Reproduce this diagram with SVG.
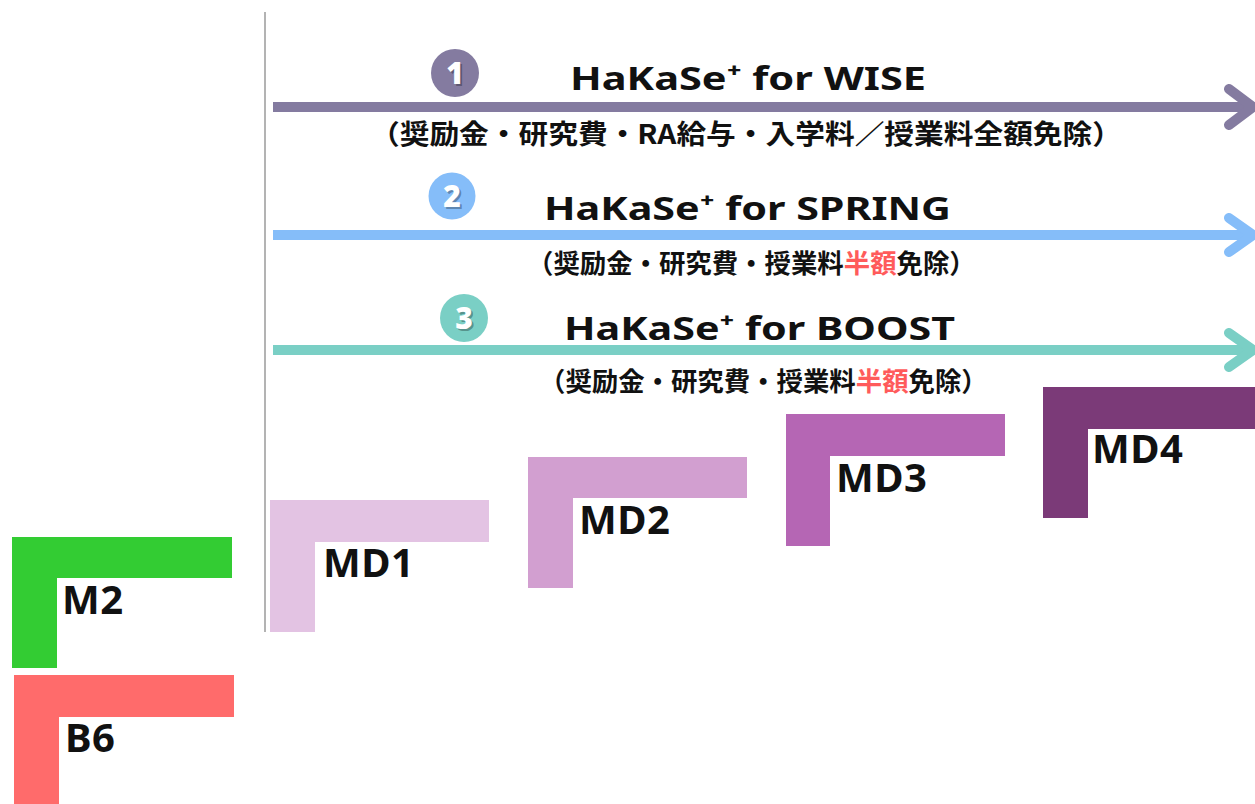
<svg xmlns="http://www.w3.org/2000/svg" width="1255" height="804" viewBox="0 0 1255 804">
<style>
.title{font-family:"Noto Sans","Liberation Sans",sans-serif;font-weight:700;font-size:33px;fill:#111}
.sub{font-family:"Noto Sans CJK JP","Noto Sans CJK SC",sans-serif;font-weight:700;fill:#111}
.sub2{font-family:"Noto Sans CJK JP","Noto Sans CJK SC",sans-serif;font-weight:700;font-size:26.4px;fill:#111}
.red{fill:#FF5B5B}
.num{font-family:"Noto Sans","Liberation Sans",sans-serif;font-weight:900;font-size:30px;fill:#fff;text-anchor:middle}
.numsh{font-family:"Noto Sans","Liberation Sans",sans-serif;font-weight:900;font-size:30px;fill:#000;fill-opacity:0.3;text-anchor:middle}
.lbl{font-family:"Noto Sans","Liberation Sans",sans-serif;font-weight:700;font-size:40px;letter-spacing:0.5px;fill:#111}
.shaft{fill:none;stroke-width:10}
.head{fill:none;stroke-width:10;stroke-linecap:round;stroke-linejoin:round}
</style>
<rect width="1255" height="804" fill="#fff"/>
<g id="connectors">
<line x1="265" y1="12" x2="265" y2="632" stroke="#9a9a9a" stroke-width="1.5"/>
<line class="shaft" x1="273" y1="107" x2="1250" y2="107" stroke="#847BA0"/>
<polyline class="head" points="1229,89 1253,107 1229,125" stroke="#847BA0"/>
<line class="shaft" x1="273" y1="235" x2="1250" y2="235" stroke="#85BDF9"/>
<polyline class="head" points="1229,218 1253,235 1229,252" stroke="#85BDF9"/>
<line class="shaft" x1="273" y1="350" x2="1250" y2="350" stroke="#7ACFC5"/>
<polyline class="head" points="1229,333 1253,350 1229,367" stroke="#7ACFC5"/>
</g>
<g id="wise">
<circle cx="455" cy="73" r="24" fill="#847BA0"/>
<text class="numsh" x="457" y="86">1</text>
<text class="num" x="455" y="84">1</text>
<text class="title" x="570" y="90" textLength="356" lengthAdjust="spacingAndGlyphs">HaKaSe⁺ for WISE</text>
<text class="sub" x="370" y="144" font-size="27" textLength="752" lengthAdjust="spacingAndGlyphs">（奨励金・研究費・RA給与・入学料／授業料全額免除）</text>
</g>
<g id="spring">
<circle cx="452" cy="196" r="23.5" fill="#85BDF9"/>
<text class="numsh" x="454" y="209">2</text>
<text class="num" x="452" y="207">2</text>
<text class="title" x="544" y="220" textLength="407" lengthAdjust="spacingAndGlyphs">HaKaSe⁺ for SPRING</text>
<text class="sub2" x="527" y="273">（奨励金・研究費・授業料</text>
<text class="sub2 red" x="843.8" y="273">半額</text>
<text class="sub2" x="896.6" y="273">免除）</text>
</g>
<g id="boost">
<circle cx="464" cy="318" r="24" fill="#7ACFC5"/>
<text class="numsh" x="466" y="331">3</text>
<text class="num" x="464" y="329">3</text>
<text class="title" x="564" y="340" textLength="391" lengthAdjust="spacingAndGlyphs">HaKaSe⁺ for BOOST</text>
<text class="sub2" x="539" y="391">（奨励金・研究費・授業料</text>
<text class="sub2 red" x="855.8" y="391">半額</text>
<text class="sub2" x="908.6" y="391">免除）</text>
</g>
<g id="M2">
<path d="M12,537 H232 V578 H57 V668 H12 Z" fill="#33CC33"/>
<text class="lbl" x="62" y="614">M2</text>
</g>
<g id="B6">
<path d="M14,675 H234 V717 H59 V804 H14 Z" fill="#FF6B6B"/>
<text class="lbl" x="65" y="752">B6</text>
</g>
<g id="MD1">
<path d="M270,500 H489 V542 H315 V632 H270 Z" fill="#E3C3E3"/>
<text class="lbl" x="323" y="577">MD1</text>
</g>
<g id="MD2">
<path d="M528,457 H747 V498 H573 V588 H528 Z" fill="#D29FD0"/>
<text class="lbl" x="579" y="534">MD2</text>
</g>
<g id="MD3">
<path d="M786,414 H1005 V456 H830 V546 H786 Z" fill="#B566B4"/>
<text class="lbl" x="836" y="492">MD3</text>
</g>
<g id="MD4">
<path d="M1043,387 H1255 V429 H1088 V518 H1043 Z" fill="#7B3A78"/>
<text class="lbl" x="1092" y="463">MD4</text>
</g>
</svg>
